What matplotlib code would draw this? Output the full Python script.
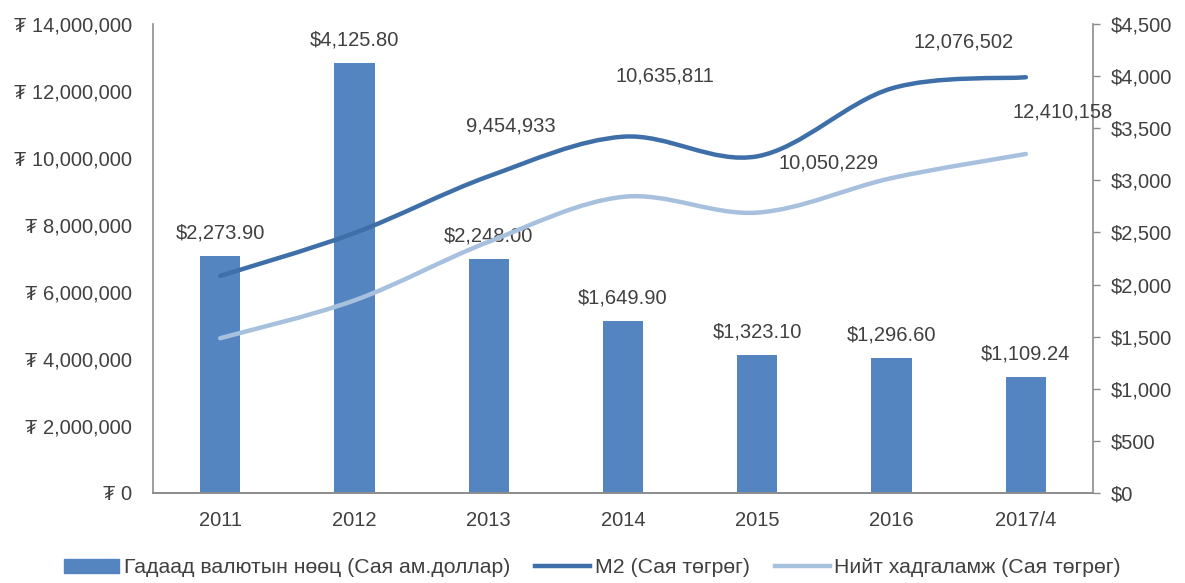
import numpy as np
import matplotlib
matplotlib.use('Agg')
import matplotlib.pyplot as plt
from matplotlib.path import Path
from matplotlib.patches import PathPatch
from matplotlib.lines import Line2D
from matplotlib.ticker import FuncFormatter

plt.rcParams['font.family'] = ['Liberation Sans', 'DejaVu Sans']

# data
years = ['2011', '2012', '2013', '2014', '2015', '2016', '2017/4']
reserves = [2273.90, 4125.80, 2248.00, 1649.90, 1323.10, 1296.60, 1109.24]   # USD mln
m2 = [6480000, 7760000, 9454933, 10635811, 10050229, 12076502, 12410158]   # MNT mln
savings = [4620000, 5750000, 7500000, 8840000, 8370000, 9400000, 10120000]  # MNT mln
m2_labels = ['', '', '9,454,933', '10,635,811', '10,050,229', '12,076,502', '12,410,158']
# label offsets in pixels (dx, dy) - placed by hand like in the source
m2_offsets = [(0, 0), (0, 0), (22, 50), (42, 61), (71, -7), (72, 46), (37, -35)]

BAR_COLOR = '#5585c0'
M2_COLOR = '#3e6fa8'
SAV_COLOR = '#a6c0de'
TXT = '#404040'
AX_COLOR = '#8c8c8c'
FS = 14.5


def smooth_path(xs, ys):
    # catmull-rom through the points, as cubic bezier segments
    pts = np.column_stack([xs, ys]).astype(float)
    verts = [pts[0]]
    codes = [Path.MOVETO]
    n = len(pts)
    for i in range(n - 1):
        p0 = pts[i - 1] if i > 0 else pts[i]
        p1 = pts[i]
        p2 = pts[i + 1]
        p3 = pts[i + 2] if i + 2 < n else pts[i + 1]
        c1 = p1 + (p2 - p0) / 6.0
        c2 = p2 - (p3 - p1) / 6.0
        verts += [c1, c2, p2]
        codes += [Path.CURVE4] * 3
    return Path(verts, codes)


fig = plt.figure(figsize=(11.85, 5.83), dpi=100)
ax = fig.add_axes([153 / 1185, 90 / 583, 940 / 1185, 469 / 583])
ax2 = ax.twinx()
ax.set_zorder(ax2.get_zorder() + 1)
ax.patch.set_visible(False)

x = np.arange(len(years))

# bars on the right axis
ax2.bar(x, reserves, width=0.3, color=BAR_COLOR, zorder=2)
for xi, v in zip(x, reserves):
    ax2.annotate('${:,.2f}'.format(v), (xi, v), xytext=(0, 23), textcoords='offset pixels',
                 ha='center', va='center', fontsize=FS, color=TXT)

# smooth lines on the left axis
for vals, col in [(m2, M2_COLOR), (savings, SAV_COLOR)]:
    patch = PathPatch(smooth_path(x, vals), facecolor='none', edgecolor=col, lw=3.2,
                      capstyle='round', zorder=3)
    ax.add_patch(patch)

for xi, v, lab, off in zip(x, m2, m2_labels, m2_offsets):
    if lab:
        ax.annotate(lab, (xi, v), xytext=off, textcoords='offset pixels',
                    ha='center', va='center', fontsize=FS, color=TXT, annotation_clip=False)

ax.set_xlim(-0.5, len(years) - 0.5)
ax.set_ylim(0, 14000000)
ax2.set_ylim(0, 4500)
ax.set_yticks(np.arange(0, 14000001, 2000000))
ax2.set_yticks(np.arange(0, 4501, 500))
ax.yaxis.set_major_formatter(FuncFormatter(lambda v, p: '\u20ae {:,.0f}'.format(v)))
ax2.yaxis.set_major_formatter(FuncFormatter(lambda v, p: '${:,.0f}'.format(v)))
ax.set_xticks(x)
ax.set_xticklabels(years)

ax.tick_params(axis='x', length=0, pad=13, labelsize=FS, labelcolor=TXT)
ax.tick_params(axis='y', length=0, pad=15, labelsize=FS, labelcolor=TXT)
ax2.tick_params(axis='y', length=5, width=1, color=AX_COLOR, pad=8, labelsize=FS, labelcolor=TXT)

for a in (ax, ax2):
    a.spines['top'].set_visible(False)
    for s in ('left', 'right', 'bottom'):
        a.spines[s].set_color(AX_COLOR)
        a.spines[s].set_linewidth(1.2)
ax.spines['right'].set_visible(False)
ax2.spines['left'].set_visible(False)

handles = [
    plt.Rectangle((0, 0), 1, 1, color=BAR_COLOR),
    Line2D([], [], color=M2_COLOR, lw=3.2),
    Line2D([], [], color=SAV_COLOR, lw=3.2),
]
labels = ['Гадаад валютын нөөц (Сая ам.доллар)', 'M2 (Сая төгрөг)', 'Нийт хадгаламж (Сая төгрөг)']
leg = fig.legend(handles, labels, loc='center', bbox_to_anchor=(0.5, 0.026), ncol=3,
                 frameon=False, fontsize=15.3, handlelength=2.6, handleheight=0.6,
                 columnspacing=1.18, handletextpad=0.2)
for t in leg.get_texts():
    t.set_color(TXT)

fig.savefig('out.png', dpi=100)
